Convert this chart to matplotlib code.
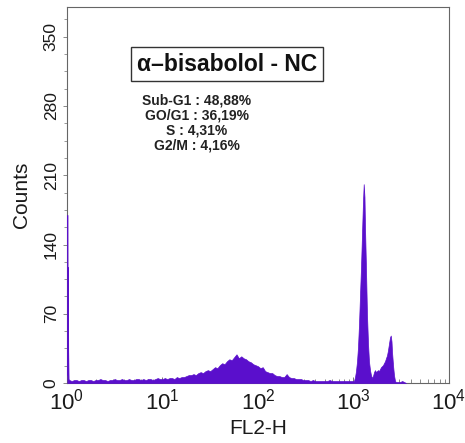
import numpy as np
import matplotlib
matplotlib.use("Agg")
import matplotlib.pyplot as plt
from matplotlib.ticker import MultipleLocator, LogLocator, NullFormatter

plt.rcParams['font.family'] = ['Liberation Sans', 'DejaVu Sans']
plt.rcParams['mathtext.fontset'] = 'custom'
plt.rcParams['mathtext.rm'] = 'Liberation Sans'
plt.rcParams['mathtext.it'] = 'Liberation Sans'

# FL2-H histogram, positions in log10(FL2-H)
spike_log = [0.004, 0.007, 0.010, 0.013, 0.017]
spike_counts = [170, 8, 117, 33, 4]

# evenly spaced log channels from 0.025 to 2.975, step 0.025
low_start, low_step = 0.025, 0.025
low_counts = [3, 2, 3, 3, 2, 3, 3, 2, 3, 3, 2, 3, 3, 4, 3, 3, 2, 3, 3,
              4, 3, 3, 4, 3, 3, 4, 3, 3, 4, 4, 3, 4, 3, 4, 4, 3, 4, 5, 4,
              4, 5, 4, 5, 5, 4, 6, 5, 6, 6, 7, 8, 8, 9, 8, 10, 11, 10, 12, 13,
              12, 14, 16, 15, 18, 20, 19, 22, 24, 23, 26, 29, 25, 27, 25, 24, 22, 21, 19, 18,
              17, 15, 16, 12, 11, 10, 10, 8, 7, 7, 6, 6, 9, 6, 5, 5, 4, 4, 4, 3,
              3, 3, 2, 3, 2, 2, 2, 2, 2, 2, 3, 2, 2, 2, 2, 2, 2, 2, 2, 2]

peak_log = [3.005, 3.016, 3.026, 3.037, 3.047, 3.058, 3.068, 3.079, 3.089, 3.099,
            3.107, 3.115, 3.120, 3.131, 3.141, 3.152, 3.162, 3.173, 3.183, 3.194,
            3.204, 3.215, 3.225, 3.236, 3.246, 3.257, 3.267, 3.277, 3.288, 3.298,
            3.309, 3.319, 3.330, 3.340, 3.351, 3.361, 3.372, 3.382, 3.390, 3.398,
            3.403, 3.414, 3.424, 3.435, 3.445, 3.466, 3.487, 3.510, 3.530, 3.550]
peak_counts = [2, 6, 12, 22, 36, 60, 88, 118, 150, 182,
               201, 188, 160, 115, 70, 40, 22, 13, 8, 5,
               7, 11, 13, 11, 12, 13, 12, 14, 16, 17,
               18, 20, 22, 25, 28, 33, 40, 46, 48, 42,
               32, 18, 8, 2, 1, 1, 1, 2, 1, 0]

title = "\u03b1\u2013bisabolol - NC"
stats = ["Sub-G1 : 48,88%", "GO/G1 : 36,19%", "S : 4,31%", "G2/M : 4,16%"]

low_log = low_start + low_step * np.arange(len(low_counts))
logx = np.concatenate([spike_log, low_log, peak_log])
counts = np.concatenate([spike_counts, low_counts, peak_counts])
x = 10 ** logx

fig = plt.figure(figsize=(4.65, 4.43), dpi=100)
ax = fig.add_axes([0.144, 0.1354, 0.8216, 0.8486])
ax.set_axisbelow(True)

purple = '#5a0fcc'
# histogram drawn over the inward ticks, like the cytometer output
ax.fill_between(x, counts, 0, facecolor=purple, edgecolor=purple, lw=0.5, zorder=3)

ax.set_xscale('log')
ax.set_xlim(1, 1e4)
ax.set_ylim(0, 380)

ax.xaxis.set_major_locator(LogLocator(base=10, numticks=10))
ax.xaxis.set_minor_locator(LogLocator(base=10, subs=np.arange(2, 10), numticks=10))
ax.xaxis.set_minor_formatter(NullFormatter())
ax.yaxis.set_major_locator(MultipleLocator(70))
ax.yaxis.set_minor_locator(MultipleLocator(17.5))

ax.tick_params(axis='x', which='both', direction='in', colors='#777777', labelcolor='#1a1a1a',
               labelsize=16, pad=4)
ax.tick_params(axis='x', which='major', length=4, width=0.7)
ax.tick_params(axis='x', which='minor', length=3, width=0.6)
ax.tick_params(axis='y', which='both', direction='out', colors='#888888', labelcolor='#1a1a1a',
               labelsize=12.5, pad=3)
ax.tick_params(axis='y', which='major', length=3, width=0.7)
ax.tick_params(axis='y', which='minor', length=2, width=0.6)
for lab in ax.get_yticklabels():
    lab.set_rotation(90)
    lab.set_va('center')

for sp in ax.spines.values():
    sp.set_color('#666666')
    sp.set_linewidth(0.8)

ax.set_xlabel('FL2-H', fontsize=15, color='#1a1a1a', labelpad=3)
ax.set_ylabel('Counts', fontsize=15, color='#1a1a1a', labelpad=9)

ax.text(0.419, 0.848, title, transform=ax.transAxes, ha='center', va='center',
        fontsize=16.5, fontweight='bold', color='#111111', zorder=4,
        bbox=dict(boxstyle='square,pad=0.25', fc='white', ec='#333333', lw=1))
ax.text(0.34, 0.691, "\n".join(stats), transform=ax.transAxes, ha='center', va='center',
        fontsize=10, fontweight='bold', color='#222222', linespacing=1.08, zorder=4)

fig.savefig('out.png', dpi=100)
